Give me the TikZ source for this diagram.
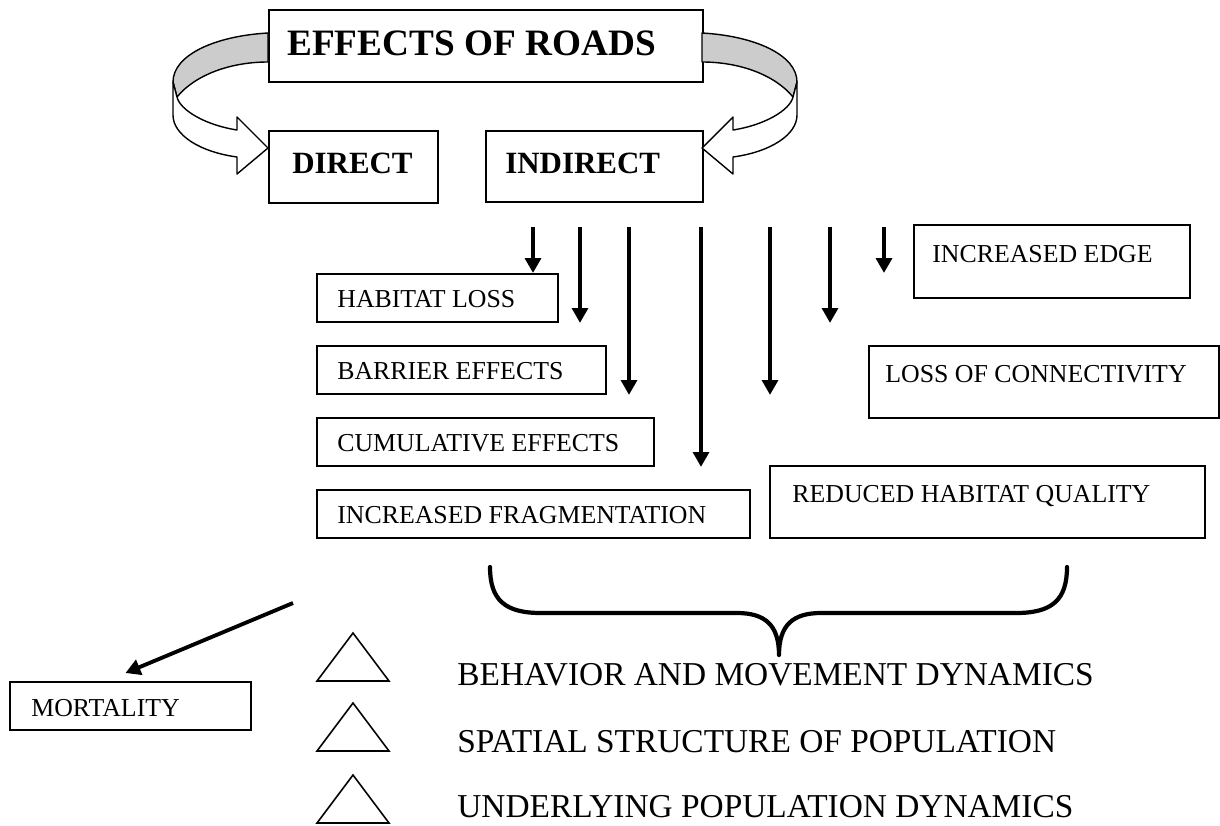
\documentclass[tikz,border=0pt]{standalone}
\usepackage{fontspec}
\setmainfont{Liberation Serif}
\usetikzlibrary{calc,arrows.meta}
\def\px{0.02cm}
\def\roadbox[#1](#2)(#3:#4)(#5:#6)#7{%
	\node[box, minimum width=#3*\px, minimum height=#4*\px, anchor=north west] (#1) at (#2) {};
	\node[anchor=base west, inner sep=0pt] (#1-txt) at ($(#1.north west)+(#5,#6)$) {#7};}
\newcommand\smallfnt{\fontsize{14.7}{17}\selectfont}
\newcommand\bigfnt{\fontsize{19}{22}\selectfont}
\newcommand\headfnt{\fontsize{21.2}{24}\selectfont\bfseries}
\newcommand\subfnt{\fontsize{17.6}{20}\selectfont\bfseries}

\begin{document}
\begin{tikzpicture}[x=0.02cm, y=-0.02cm,
		box/.style={draw, line width=1.1pt, inner sep=0pt},
		arr/.style={line width=2.4pt, -{Triangle[width=9pt,length=8.5pt]}},
		band/.style={draw, line width=0.8pt, line join=round}]
			%%%%% START %%%%%
			\useasboundingbox (0,0) rectangle (1220,825);
			
			\roadbox[roads](268,9)(434:72)(19:46){\headfnt EFFECTS OF ROADS}
			\roadbox[direct](268,130)(169:72)(24:43){\subfnt DIRECT}
			\roadbox[indirect](485,130)(217:71)(20:43){\subfnt INDIRECT}
			
			% curved arrows, left one and its mirror
			\foreach \s in {1,-1} {
				\begin{scope}[shift={(485,0)}, xscale=\s]
					\draw[band, fill=black!20] (-217,33) .. controls (-270,36) and (-312,55) .. (-312,82) -- (-308,97) .. controls (-290,75) and (-255,62) .. (-217,62) -- cycle;
					\draw[band, fill=white] (-312,82) -- (-312,115) .. controls (-312,135) and (-285,152) .. (-248,157) -- (-248,174) -- (-217,148) -- (-248,117) -- (-248,130) .. controls (-280,125) and (-305,110) .. (-308,97) -- cycle;
				\end{scope}
			}
			
			\roadbox[hab](316,273)(241:48)(21:34){\smallfnt HABITAT LOSS}
			\roadbox[bar](316,345)(289:48)(21:34){\smallfnt BARRIER EFFECTS}
			\roadbox[cum](316,417)(337:48)(21:34){\smallfnt CUMULATIVE EFFECTS}
			\roadbox[frag](316,489)(433:48)(21:34){\smallfnt INCREASED FRAGMENTATION}
			\roadbox[incedge](913,224)(276:73)(19:38){\smallfnt INCREASED EDGE}
			\roadbox[conn](868,345)(350:72)(17:37){\smallfnt LOSS OF CONNECTIVITY}
			\roadbox[qual](769,465)(435:72)(23:37){\smallfnt REDUCED HABITAT QUALITY}
			\roadbox[mort](9,681)(241:48)(22:35){\smallfnt MORTALITY}
			
			\foreach \x/\lvl [count=\i] in {533/hab.north, 580/hab.south, 629/bar.south, 701/cum.south, 770/bar.south, 830/hab.south, 884/hab.north} {
				\coordinate (v\i) at (\x,227);
				\draw[arr] (v\i) -- (v\i |- \lvl);
			}
			
			% brace
			\draw[line width=2.4pt, line cap=round, line join=round] (490,567) .. controls (490,600) and (505,613) .. (541,613) -- (737,613) .. controls (765,613) and (779,625) .. (779,655) .. controls (779,625) and (793,613) .. (821,613) -- (1016,613) .. controls (1052,613) and (1067,600) .. (1067,567);
			
			\coordinate (mfrom) at (293,603);
			\draw[arr, line width=2.2pt] (mfrom) -- ($(mort.north)+(-5,-8)$);
			
			\foreach \y/\b/\name/\txt in {633/685/beh/BEHAVIOR AND MOVEMENT DYNAMICS, 703/752/spa/SPATIAL STRUCTURE OF POPULATION, 775/817/und/UNDERLYING POPULATION DYNAMICS} {
				\draw[line width=0.9pt] (353,\y) -- (389,\y+48) -- (317,\y+48) -- cycle;
				\node[anchor=base west, inner sep=0pt] (\name) at (457,\b) {\bigfnt \txt};
			}
			
			%%%%% END %%%%%
\end{tikzpicture}
\end{document}
